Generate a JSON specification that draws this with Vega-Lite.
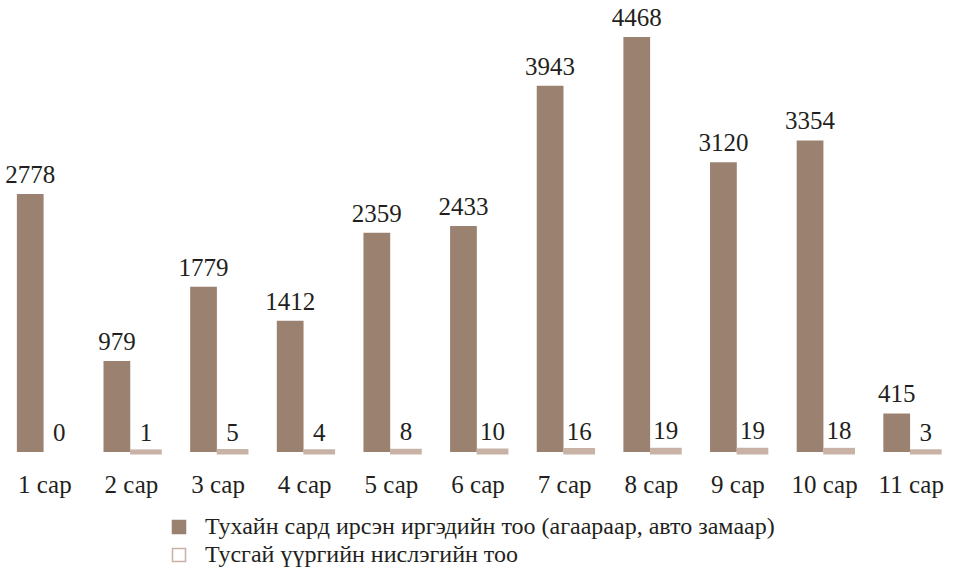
{
  "$schema": "https://vega.github.io/schema/vega-lite/v6.json",
  "width": 950,
  "height": 452,
  "padding": {"left": 3, "top": 0, "right": 0, "bottom": 115},
  "autosize": {"type": "none"},
  "background": "white",
  "config": {"view": {"stroke": null}, "font": "Liberation Serif"},
  "data": {
    "values": [
      {"month": "1 сар", "s": "a", "value": 2778}, {"month": "1 сар", "s": "b", "value": 0},
      {"month": "2 сар", "s": "a", "value": 979}, {"month": "2 сар", "s": "b", "value": 1},
      {"month": "3 сар", "s": "a", "value": 1779}, {"month": "3 сар", "s": "b", "value": 5},
      {"month": "4 сар", "s": "a", "value": 1412}, {"month": "4 сар", "s": "b", "value": 4},
      {"month": "5 сар", "s": "a", "value": 2359}, {"month": "5 сар", "s": "b", "value": 8},
      {"month": "6 сар", "s": "a", "value": 2433}, {"month": "6 сар", "s": "b", "value": 10},
      {"month": "7 сар", "s": "a", "value": 3943}, {"month": "7 сар", "s": "b", "value": 16},
      {"month": "8 сар", "s": "a", "value": 4468}, {"month": "8 сар", "s": "b", "value": 19},
      {"month": "9 сар", "s": "a", "value": 3120}, {"month": "9 сар", "s": "b", "value": 19},
      {"month": "10 сар", "s": "a", "value": 3354}, {"month": "10 сар", "s": "b", "value": 18},
      {"month": "11 сар", "s": "a", "value": 415}, {"month": "11 сар", "s": "b", "value": 3}
    ]
  },
  "encoding": {
    "x": {
      "field": "month", "type": "nominal", "sort": null,
      "scale": {"paddingInner": 0.356, "paddingOuter": 0.16},
      "axis": {"title": null, "labelAngle": 0, "ticks": false, "domain": false, "labelPadding": 20, "labelFontSize": 25, "labelColor": "#231f20", "labelFont": "Liberation Serif"}
    },
    "xOffset": {"field": "s", "type": "nominal", "scale": {"paddingInner": 0.08}},
    "y": {
      "field": "value", "type": "quantitative",
      "scale": {"domain": [0, 4866], "nice": false, "zero": true},
      "axis": null
    }
  },
  "layer": [
    {
      "mark": {"type": "bar"},
      "encoding": {
        "fill": {
          "field": "s", "type": "nominal",
          "scale": {"domain": ["a", "b"], "range": ["#9b8170", "#ffffff"]},
          "legend": {
            "orient": "none", "legendX": 164, "legendY": 515, "title": null,
            "symbolType": "square", "symbolSize": 170, "symbolStrokeWidth": 1.5,
            "labelFontSize": 24, "labelFont": "Liberation Serif", "labelColor": "#231f20", "labelLimit": 0,
            "rowPadding": 4, "labelOffset": 14,
            "labelExpr": "datum.value === 'a' ? 'Тухайн сард ирсэн иргэдийн тоо (агаараар, авто замаар)' : 'Тусгай үүргийн нислэгийн тоо'"
          }
        },
        "stroke": {
          "field": "s", "type": "nominal",
          "scale": {"domain": ["a", "b"], "range": ["#9b8170", "#c8b2a6"]},
          "legend": {
            "orient": "none", "legendX": 164, "legendY": 515, "title": null,
            "symbolType": "square", "symbolSize": 170, "symbolStrokeWidth": 1.5,
            "labelFontSize": 24, "labelFont": "Liberation Serif", "labelColor": "#231f20", "labelLimit": 0,
            "rowPadding": 4, "labelOffset": 14,
            "labelExpr": "datum.value === 'a' ? 'Тухайн сард ирсэн иргэдийн тоо (агаараар, авто замаар)' : 'Тусгай үүргийн нислэгийн тоо'"
          }
        },
        "strokeWidth": {"condition": {"test": "datum.s === 'b' && datum.value > 0", "value": 5}, "value": 0}
      }
    },
    {
      "mark": {"type": "text", "baseline": "bottom", "dy": -6, "fontSize": 25, "font": "Liberation Serif", "color": "#231f20"},
      "encoding": {"text": {"field": "value", "type": "quantitative", "format": "d"}}
    }
  ]
}
